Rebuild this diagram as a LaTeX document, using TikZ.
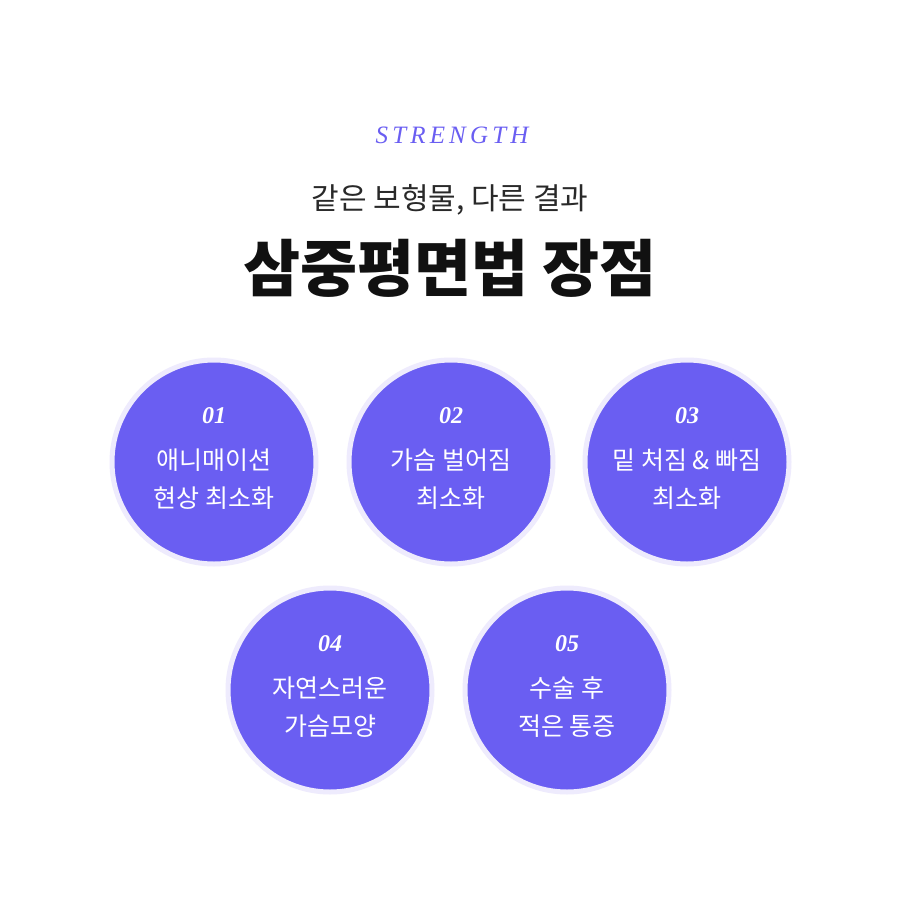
\documentclass[tikz,border=0pt]{standalone}
\usepackage{fontspec}
\newfontfamily\kr{Noto Sans CJK KR}
\newfontfamily\krb{Noto Sans CJK KR}[BoldFont={* Bold}]
\newfontfamily\numf{Liberation Serif}
\definecolor{pur}{HTML}{6A5EF2}
\definecolor{ring}{HTML}{EEEBFD}
\definecolor{ink}{HTML}{111111}
\begin{document}
\begin{tikzpicture}[x=1pt,y=-1pt,
  disc/.style={circle,fill=pur,draw=ring,line width=5pt,minimum size=204pt,inner sep=0pt},
  num/.style={text=white,font=\numf\bfseries\itshape\fontsize{24}{24}\selectfont},
  lbl/.style={text=white,align=center,font=\kr\fontsize{25}{38}\selectfont}]
\useasboundingbox[fill=white] (0,0) rectangle (900,900);
\node[text=pur,font=\numf\itshape\fontsize{25}{25}\selectfont] (s) at (452,135) {S\,T\,R\,E\,N\,G\,T\,H};
\node[text=ink!90,font=\kr\fontsize{30}{30}\selectfont] (sub) at (450,200) {같은 보형물, 다른 결과};
\node[text=ink,font=\kr\bfseries\fontsize{62}{62}\selectfont] (t) at (450,268) {삼중평면법 장점};
\foreach \n/\x/\y/\a/\b in {1/214/462/애니매이션/현상 최소화,2/451/462/가슴 벌어짐/최소화,3/687/462/밑 처짐 \& 빠짐/최소화,4/330/690/자연스러운/가슴모양,5/567/690/수술 후/적은 통증}{
  \node[disc] (c\n) at (\x,\y) {};
  \node[num] (n\n) at (\x,\y-46) {0\n};
  \node[lbl] (l\n) at (\x,\y+17) {\a\\\b};
}
\end{tikzpicture}
\end{document}
